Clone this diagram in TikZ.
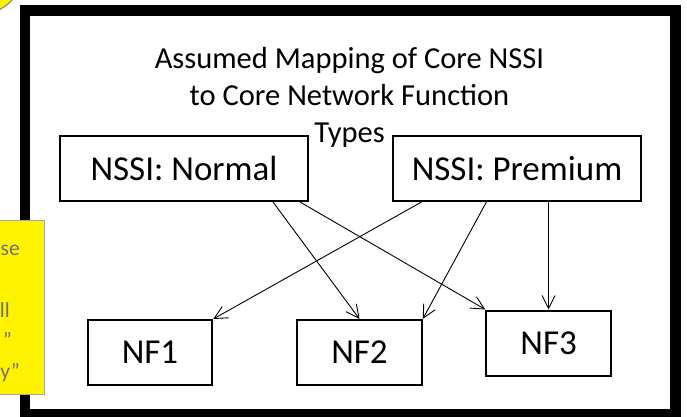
\documentclass[tikz,border=0pt]{standalone}
\usepackage{fontspec}
\setmainfont{Carlito}
\usepackage{tikz}
\usetikzlibrary{arrows.meta,positioning}
\tikzset{
    %Define standard arrow tip
    >={Straight Barb[length=13pt,width=13pt]},
    %Define style for boxes
    nssi/.style={
           rectangle,
           draw=black, line width=2pt,
           minimum width=248pt,
           minimum height=65pt,
           inner sep=0pt,
           font=\fontsize{35}{42}\selectfont,
           text centered},
    nf/.style={
           rectangle,
           draw=black, line width=2pt,
           minimum width=124.5pt,
           minimum height=65pt,
           inner sep=0pt,
           font=\fontsize{35}{42}\selectfont,
           text centered},
    % Define arrow style
    pil/.style={
           ->,
           line width=0.9pt},
    %Define style for the sticky note text
    note/.style={
           font=\fontsize{21.5}{30}\selectfont,
           text=black!55,
           anchor=base east,
           inner sep=0pt}
}
\begin{document}
\begin{tikzpicture}[x=1pt,y=-1pt,node distance=83pt]
\useasboundingbox (0,0) rectangle (687,417);
% bubble, mostly off the page
\draw[fill=yellow,draw=yellow!45!black,line width=1pt] (-25,-35) circle (51);
% frame
\draw[line width=10.5pt] (25.2,10.7) rectangle (675.5,414);
\node[font=\fontsize{30.5}{37}\selectfont,align=center](0) at (349.5,97){Assumed Mapping of Core NSSI\\to Core Network Function\\Types};
\node[nssi](1) at (184,168.5){NSSI: Normal};
\node[nssi, right=of 1](2){NSSI: Premium};
\node[nf](3) at (150,352.5){NF1};
\node[nf, right=of 3](4){NF2};
\node[nf, right=62.6pt of 4, yshift=9.5pt](5){NF3};
\path[pil]
    ([xshift=89pt]1.south) edge (4.north)
    ([xshift=116pt]1.south) edge (5.north west)
    ([xshift=-95.5pt]2.south) edge (3.north east)
    ([xshift=-30.6pt]2.south) edge (4.north east)
    (2.south -| 5.north) edge (5.north);
% sticky note
\draw[fill=yellow,draw=black!35,line width=1pt] (-5,220) rectangle (44.3,394);
\node[note](6) at (20,255){se};
\node[note](7) at (10,317){ll};
\node[note](8) at (12,347){”};
\node[note](9) at (20,378){y”};
\end{tikzpicture}
\end{document}
